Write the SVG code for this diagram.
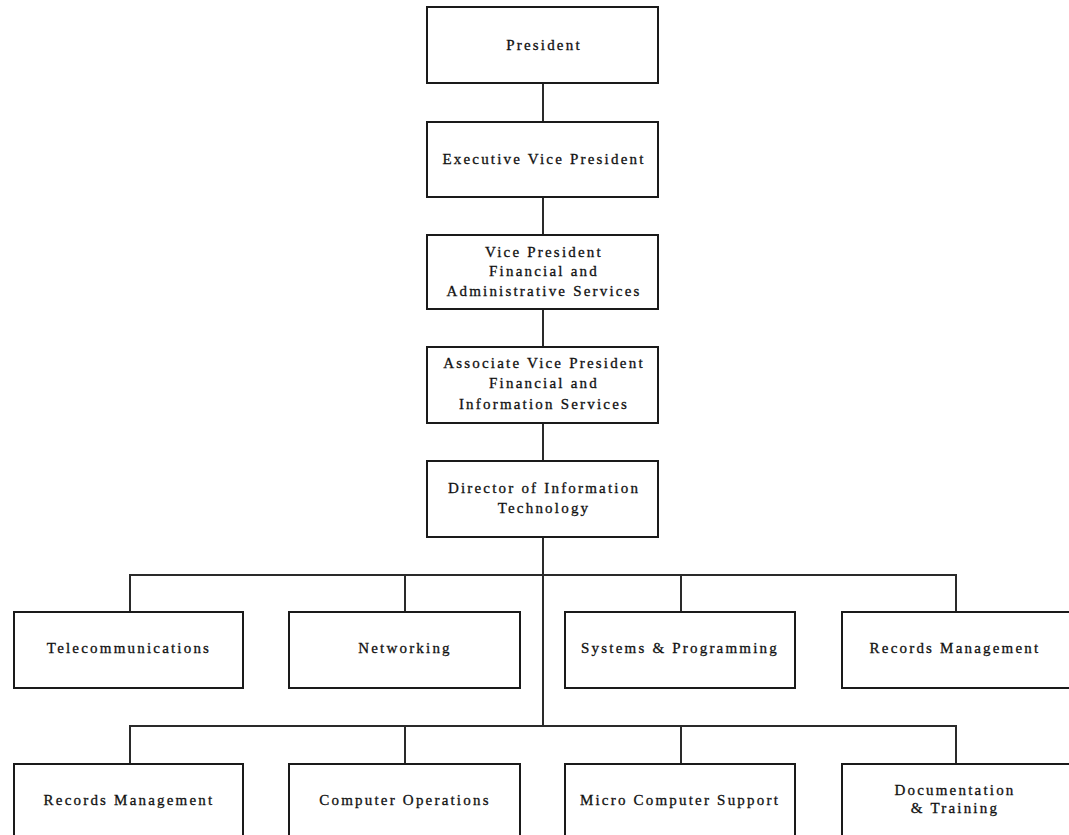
<svg xmlns="http://www.w3.org/2000/svg" width="1069" height="835" viewBox="0 0 1069 835">
<style>
.box{fill:#fff;stroke:#1a1a1a;stroke-width:2}
.c{fill:none;stroke:#2a2a2a;stroke-width:2}
text{font-family:"Liberation Serif","Times New Roman",serif;font-size:15px;fill:#111;stroke:#111;stroke-width:0.3;text-anchor:middle;letter-spacing:2.2px}
</style>
<rect width="1069" height="835" fill="#fff"/>
<g id="connectors">
<path class="c" d="M543 83V122M543 197V235M543 309V347M543 423V461M543 537V726"/>
<path class="c" d="M130 612V575H956V612M405 575V612M681 575V612"/>
<path class="c" d="M130 764V726H956V764M405 726V764M681 726V764"/>
</g>
<g id="president"><rect class="box" x="427" y="7" width="231" height="76"/><text x="544" y="50">President</text></g>
<g id="evp"><rect class="box" x="427" y="122" width="231" height="75"/><text x="544" y="164">Executive Vice President</text></g>
<g id="vp"><rect class="box" x="427" y="235" width="231" height="74"/><text x="544" y="257">Vice President</text><text x="544" y="276">Financial and</text><text x="544" y="296">Administrative Services</text></g>
<g id="avp"><rect class="box" x="427" y="347" width="231" height="76"/><text x="544" y="368">Associate Vice President</text><text x="544" y="388">Financial and</text><text x="544" y="409">Information Services</text></g>
<g id="director"><rect class="box" x="427" y="461" width="231" height="76"/><text x="544" y="493">Director of Information</text><text x="544" y="513">Technology</text></g>
<g id="telecom"><rect class="box" x="14" y="612" width="229" height="76"/><text x="129" y="653">Telecommunications</text></g>
<g id="networking"><rect class="box" x="289" y="612" width="231" height="76"/><text x="405" y="653">Networking</text></g>
<g id="systems"><rect class="box" x="565" y="612" width="230" height="76"/><text x="680" y="653">Systems &amp; Programming</text></g>
<g id="records1"><rect class="box" x="842" y="612" width="230" height="76"/><text x="955" y="653">Records Management</text></g>
<g id="records2"><rect class="box" x="14" y="764" width="229" height="85"/><text x="129" y="805">Records Management</text></g>
<g id="compops"><rect class="box" x="289" y="764" width="231" height="85"/><text x="405" y="805">Computer Operations</text></g>
<g id="micro"><rect class="box" x="565" y="764" width="230" height="85"/><text x="680" y="805">Micro Computer Support</text></g>
<g id="docs"><rect class="box" x="842" y="764" width="230" height="85"/><text x="955" y="795">Documentation</text><text x="955" y="813">&amp; Training</text></g>
</svg>
